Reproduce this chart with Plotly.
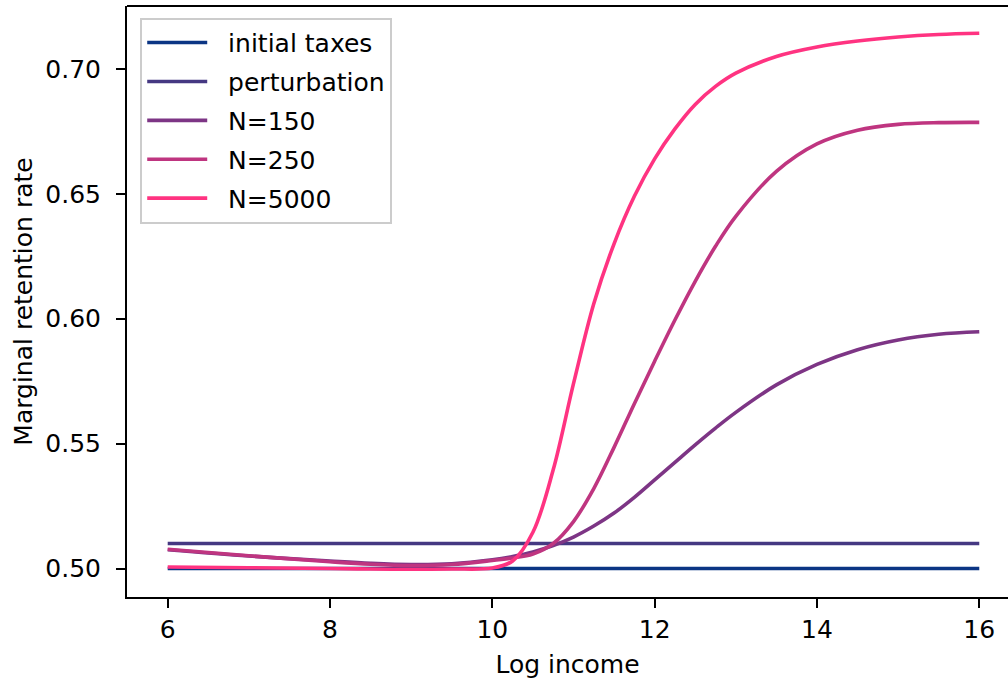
import plotly.graph_objects as go

# Log income grid shared by the approximated schedules
log_income = [6.0, 7.0, 8.0, 8.5, 9.0, 9.5, 10.0, 10.25, 10.5, 10.75, 11.0, 11.25,
              11.5, 11.75, 12.0, 12.25, 12.5, 12.75, 13.0, 13.5, 14.0, 14.5, 15.0, 15.5, 16.0]

initial_taxes = [0.50] * len(log_income)
perturbation = [0.51] * len(log_income)

n150 = [0.5075, 0.5050, 0.5030, 0.5021, 0.5016, 0.5019, 0.5035, 0.5048, 0.5066, 0.5092,
        0.5126, 0.5170, 0.5222, 0.5285, 0.5355, 0.5425, 0.5495, 0.5562, 0.5625, 0.5735,
        0.5817, 0.5876, 0.5915, 0.5938, 0.5948]

n250 = [0.5077, 0.5051, 0.5027, 0.5017, 0.5012, 0.5016, 0.5032, 0.5042, 0.5058, 0.5100,
        0.5188, 0.5320, 0.5485, 0.5660, 0.5830, 0.5995, 0.6150, 0.6290, 0.6410, 0.6590,
        0.6700, 0.6755, 0.6778, 0.6785, 0.6786]

n5000 = [0.5006, 0.5003, 0.5000, 0.4998, 0.4997, 0.4998, 0.5002, 0.5030, 0.5145, 0.5395,
         0.5740, 0.6060, 0.6300, 0.6490, 0.6640, 0.6760, 0.6858, 0.6930, 0.6983, 0.7050,
         0.7088, 0.7112, 0.7128, 0.7138, 0.7143]

series = [
    ("initial taxes", initial_taxes, "#0b3584"),
    ("perturbation", perturbation, "#453882"),
    ("N=150", n150, "#7d3585"),
    ("N=250", n250, "#bf3580"),
    ("N=5000", n5000, "#ff3381"),
]

FONT = "DejaVu Sans"
NBSP = "\u00a0"

fig = go.Figure()
for name, values, color in series:
    fig.add_trace(go.Scatter(
        x=log_income, y=values, name=NBSP * 2 + name, legendgroup=name, mode="lines",
        line=dict(color=color, width=3.6, shape="spline", smoothing=1.0),
    ))

axis_common = dict(
    showgrid=False, zeroline=False, showline=True, linecolor="black", linewidth=2,
    ticks="outside", ticklen=9, tickwidth=2, tickcolor="black",
    tickfont=dict(family=FONT, size=25, color="black"),
)

fig.update_xaxes(
    range=[5.4985, 16.354], tickvals=[6, 8, 10, 12, 14, 16],
    title=dict(text="Log income", font=dict(family=FONT, size=25, color="black"), standoff=12),
    **axis_common,
)
fig.update_yaxes(
    range=[0.48859, 0.7252], tickvals=[0.50, 0.55, 0.60, 0.65, 0.70], tickformat=".2f",
    ticklabelstandoff=10,
    title=dict(text="Marginal retention rate", font=dict(family=FONT, size=25, color="black"), standoff=6),
    **axis_common,
)

# top spine only (the right side runs off the canvas)
fig.add_shape(type="line", xref="paper", yref="paper", x0=0, x1=1, y0=1, y1=1,
              line=dict(color="black", width=2), layer="above")

fig.update_layout(
    width=1008, height=679,
    margin=dict(l=127, r=0, t=6, b=82),
    plot_bgcolor="white", paper_bgcolor="white",
    font=dict(family=FONT, size=25, color="black"),
    legend=dict(
        x=0.015, y=0.98, xanchor="left", yanchor="top",
        bgcolor="rgba(255,255,255,0.8)", bordercolor="#cccccc", borderwidth=2,
        font=dict(family=FONT, size=25, color="black"),
        itemwidth=60, tracegroupgap=3.4,
    ),
    showlegend=True,
)

fig.write_html("out.html")
